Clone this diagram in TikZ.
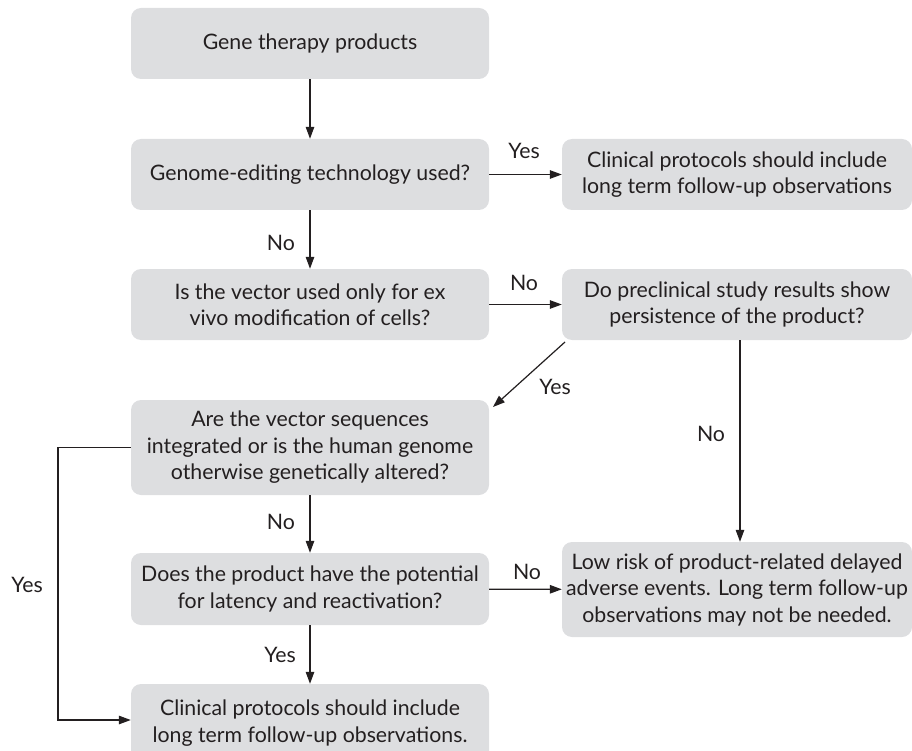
\documentclass[tikz,border=0pt]{standalone}
\usepackage{fontspec}
\setmainfont{Lato}
\usetikzlibrary{arrows.meta}
\definecolor{boxgray}{RGB}{221,222,224}
\definecolor{txt}{RGB}{35,31,32}
\begin{document}
\begin{tikzpicture}[x=1pt,y=-1pt,
  box/.style={fill=boxgray, rounded corners=10pt, align=center, inner sep=0pt,
    font=\fontsize{21.3}{26.5}\selectfont, text=txt},
  lbl/.style={font=\fontsize{21.3}{26.5}\selectfont, text=txt, inner sep=0pt},
  conn/.style={draw=txt, line width=1.2pt, -{Triangle[length=12pt,width=8.5pt]}},
  line/.style={draw=txt, line width=1.2pt}]
\useasboundingbox (0,0) rectangle (912,751);
\node[box, minimum width=358pt, minimum height=71pt] (b1) at (310,43.5) {Gene therapy products};
\node[box, minimum width=358pt, minimum height=71pt] (b2) at (310,174.5) {Genome-editing technology used?};
\node[box, minimum width=350pt, minimum height=71pt] (r1) at (737,174.5) {Clinical protocols should include\\long term follow-up observations};
\node[box, minimum width=358pt, minimum height=71pt] (b3) at (310,304.5) {Is the vector used only for ex\\vivo modification of cells?};
\node[box, minimum width=350pt, minimum height=71pt] (r2) at (737,304.5) {Do preclinical study results show\\persistence of the product?};
\node[box, minimum width=358pt, minimum height=95pt] (b4) at (310,447.5) {Are the vector sequences\\integrated or is the human genome\\otherwise genetically altered?};
\node[box, minimum width=358pt, minimum height=72pt] (b5) at (310,589) {Does the product have the potential\\for latency and reactivation?};
\node[box, minimum width=350pt, minimum height=95pt] (lr) at (737,589.5) {Low risk of product-related delayed\\adverse events. Long term follow-up\\observations may not be needed.};
\node[box, minimum width=358pt, minimum height=78pt] (b6) at (310,723) {Clinical protocols should include\\long term follow-up observations.};

\coordinate (c1) at (58,447.5);
\coordinate (c2) at (58,720);
\coordinate (d1) at (565,342);
\coordinate (d2) at (493,407);

\draw[conn] (b1) -- (b2);
\draw[conn] (b2) -- (b3);
\draw[conn] (b2) -- (r1);
\draw[conn] (b3) -- (r2);
\draw[conn] (d1) -- (d2);
\draw[conn] (r2.south -| 740,0) -- (lr.north -| 740,0);
\draw[conn] (b4) -- (b5);
\draw[conn] (b5) -- (lr);
\draw[conn] (b5) -- (b6);
\draw[conn] (b4.west) -- (c1) -- (c2) -- (b6.west |- c2);

\node[lbl] (l1) at (281,243) {No};
\node[lbl] (l2) at (524,151) {Yes};
\node[lbl] (l3) at (524,283) {No};
\node[lbl] (l4) at (555,387) {Yes};
\node[lbl] (l5) at (711,434) {No};
\node[lbl] (l6) at (281,522) {No};
\node[lbl] (l7) at (527,572) {No};
\node[lbl] (l8) at (280,655) {Yes};
\node[lbl] (l9) at (27,585) {Yes};
\end{tikzpicture}
\end{document}
